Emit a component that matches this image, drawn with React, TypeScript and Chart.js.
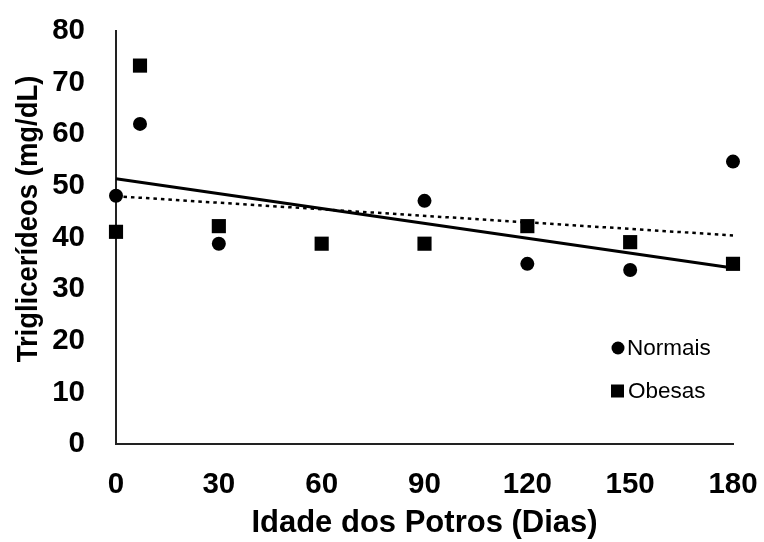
import React, { useEffect, useRef } from 'react';
import { Chart, registerables } from 'chart.js';

Chart.register(...registerables);

// ---- data ----
const normaisDays = [0, 7, 30, 90, 120, 150, 180];
const normaisValues = [48.1, 62.0, 38.8, 47.1, 34.9, 33.7, 54.7];
const obesasDays = [0, 7, 30, 60, 90, 120, 150, 180];
const obesasValues = [41.1, 73.3, 42.2, 38.8, 38.8, 42.2, 39.1, 34.9];
const trendDays = [0, 180];
const trendNormais = [48.0, 40.4];
const trendObesas = [51.4, 34.1];
const xTicks = [0, 30, 60, 90, 120, 150, 180];
const yTicks = [0, 10, 20, 30, 40, 50, 60, 70, 80];
const seriesLabels = ['Normais', 'Obesas'];
const xTitle = 'Idade dos Potros (Dias)';
const yTitle = 'Triglicerídeos (mg/dL)';

const FONT = '"Liberation Sans", Arial, sans-serif';

const toPoints = (xs: number[], ys: number[]) => xs.map((x, i) => ({ x, y: ys[i] }));

const insideLegend = {
  id: 'insideLegend',
  afterDraw(chart: any) {
    const ctx = chart.ctx as CanvasRenderingContext2D;
    const items = [
      { ds: chart.data.datasets[0], mx: 618, my: 348, tx: 627 },
      { ds: chart.data.datasets[1], mx: 617.5, my: 391, tx: 628 },
    ];
    ctx.save();
    ctx.font = `22.5px ${FONT}`;
    ctx.textBaseline = 'middle';
    ctx.textAlign = 'left';
    ctx.fillStyle = '#000';
    items.forEach((it) => {
      ctx.beginPath();
      if (it.ds.pointStyle === 'circle') {
        ctx.arc(it.mx, it.my, 6.5, 0, Math.PI * 2);
      } else {
        ctx.rect(it.mx - 6.5, it.my - 6.5, 13, 13);
      }
      ctx.fill();
      ctx.fillText(it.ds.label, it.tx, it.my + 1);
    });
    ctx.restore();

    // vertical axis title (Excel-style placement)
    ctx.save();
    ctx.translate(29, 219);
    ctx.rotate(-Math.PI / 2);
    ctx.scale(0.915, 1);
    ctx.font = `bold 30px ${FONT}`;
    ctx.textAlign = 'center';
    ctx.textBaseline = 'middle';
    ctx.fillStyle = '#000';
    ctx.fillText(yTitle, 0, 0);
    ctx.restore();
  },
};

export default function App() {
  const ref = useRef<HTMLCanvasElement | null>(null);

  useEffect(() => {
    if (!ref.current) return;
    const chart = new Chart(ref.current, {
      type: 'scatter',
      data: {
        datasets: [
          {
            label: seriesLabels[0],
            data: toPoints(normaisDays, normaisValues),
            pointStyle: 'circle',
            pointRadius: 7,
            backgroundColor: '#000',
            borderColor: '#000',
            borderWidth: 0,
            clip: false,
          },
          {
            label: seriesLabels[1],
            data: toPoints(obesasDays, obesasValues),
            pointStyle: 'rect',
            pointRadius: 10,
            backgroundColor: '#000',
            borderColor: '#000',
            borderWidth: 0,
            clip: false,
          },
          {
            label: 'Linear (Normais)',
            data: toPoints(trendDays, trendNormais),
            showLine: true,
            pointRadius: 0,
            borderColor: '#000',
            borderWidth: 2.5,
            borderDash: [3.5, 4],
            borderCapStyle: 'butt',
            clip: false,
          },
          {
            label: 'Linear (Obesas)',
            data: toPoints(trendDays, trendObesas),
            showLine: true,
            pointRadius: 0,
            borderColor: '#000',
            borderWidth: 3,
            clip: false,
          },
        ],
      } as any,
      options: {
        animation: false,
        responsive: false,
        layout: { padding: { top: 31, right: 31, left: 0, bottom: 0 } },
        plugins: {
          legend: { display: false },
          tooltip: { enabled: false },
        },
        scales: {
          x: {
            type: 'linear',
            min: xTicks[0],
            max: xTicks[xTicks.length - 1],
            afterBuildTicks: (axis: any) => {
              axis.ticks = xTicks.map((v) => ({ value: v }));
            },
            grid: { display: false, drawTicks: false },
            border: { display: true, color: '#222', width: 2 },
            ticks: {
              padding: 23,
              color: '#000',
              font: { family: FONT, size: 29.5, weight: 'bold' },
              maxRotation: 0,
            },
            title: {
              display: true,
              text: xTitle,
              color: '#000',
              font: { family: FONT, size: 31, weight: 'bold' },
              padding: { top: 0, bottom: 0 },
            },
            afterFit: (s: any) => {
              s.height = 98;
              s.paddingLeft = 0;
              s.paddingRight = 0;
            },
          },
          y: {
            type: 'linear',
            min: yTicks[0],
            max: yTicks[yTicks.length - 1],
            afterBuildTicks: (axis: any) => {
              axis.ticks = yTicks.map((v) => ({ value: v }));
            },
            grid: { display: false, drawTicks: false },
            border: { display: true, color: '#222', width: 2 },
            ticks: {
              padding: 31,
              color: '#000',
              font: { family: FONT, size: 29.5, weight: 'bold' },
            },
            title: { display: false },
            afterFit: (s: any) => {
              s.width = 116;
              s.paddingTop = 0;
              s.paddingBottom = 0;
            },
          },
        },
      } as any,
      plugins: [insideLegend],
    });
    return () => chart.destroy();
  }, []);

  return (
    <div style={{ position: 'absolute', left: 0, top: 0, width: 764, height: 542, background: '#fff' }}>
      <canvas ref={ref} width={764} height={542} style={{ display: 'block' }} />
    </div>
  );
}
